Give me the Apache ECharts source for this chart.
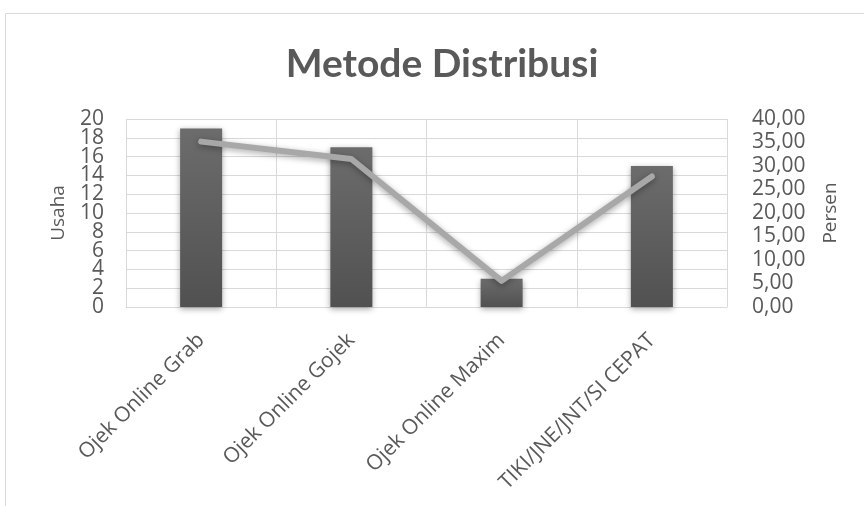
<!DOCTYPE html>
<html>
<head>
<meta charset="utf-8">
<script src="https://cdn.jsdelivr.net/npm/echarts@6/dist/echarts.min.js"></script>
<style>html,body{margin:0;padding:0;background:#fff}#c{width:864px;height:506px}</style>
</head>
<body>
<div id="c"></div>
<script>
const categories = ['Ojek Online Grab', 'Ojek Online Gojek', 'Ojek Online Maxim', 'TIKI/JNE/JNT/SI CEPAT'];
const usaha = [19, 17, 3, 15];
const persen = [35.19, 31.48, 5.56, 27.78];
const leftTicks = [0, 2, 4, 6, 8, 10, 12, 14, 16, 18, 20];
const rightTicks = [0, 5, 10, 15, 20, 25, 30, 35, 40];
const chart = echarts.init(document.getElementById('c'));
const FONT = 'Open Sans';
const TXT = '#595959';
const lbl = { fontSize: 21, color: TXT, fontFamily: FONT };
chart.setOption({
  animation: false,
  textStyle: { fontFamily: FONT },
  title: {
    text: 'Metode Distribusi', left: 437, top: 40, textAlign: 'center',
    textStyle: { fontFamily: 'Lato', fontSize: 39, fontWeight: 'bold', color: TXT }
  },
  graphic: [{
    type: 'rect', shape: { x: 5.5, y: 13.5, width: 900, height: 600 },
    style: { fill: 'none', stroke: '#d9d9d9', lineWidth: 1 }, silent: true
  }],
  grid: { left: 126, right: 137, top: 119, bottom: 199 },
  xAxis: {
    type: 'category', data: categories,
    axisLine: { lineStyle: { color: '#d9d9d9', width: 1 } },
    axisTick: { show: false },
    splitLine: { show: true, lineStyle: { color: '#d9d9d9', width: 1 } },
    axisLabel: { rotate: 45, interval: 0, fontSize: 21, color: TXT, margin: 30, fontFamily: FONT }
  },
  yAxis: [{
    type: 'value', min: 0, max: 20, interval: 2, position: 'left',
    name: 'Usaha', nameLocation: 'middle', nameRotate: 90, nameGap: 58,
    nameTextStyle: { fontSize: 19, color: TXT, fontFamily: FONT },
    axisLine: { show: false }, axisTick: { show: false },
    splitLine: { lineStyle: { color: '#d9d9d9', width: 1 } },
    axisLabel: Object.assign({ margin: 22, hideOverlap: false,
      customValues: leftTicks.filter((_, i) => i % 2 === 0) }, lbl)
  }, {
    type: 'value', min: 0, max: 40, interval: 5, position: 'right',
    name: 'Persen', nameLocation: 'middle', nameRotate: 90, nameGap: 94,
    nameTextStyle: { fontSize: 19, color: TXT, fontFamily: FONT },
    axisLine: { show: false }, axisTick: { show: false },
    splitLine: { show: false },
    axisLabel: Object.assign({ margin: 25, hideOverlap: false, customValues: rightTicks,
      formatter: v => v.toFixed(2).replace('.', ',') }, lbl)
  }, {
    type: 'value', min: 0, max: 20, interval: 2, position: 'left', offset: 0,
    axisLine: { show: false }, axisTick: { show: false },
    splitLine: { show: false },
    axisLabel: Object.assign({ margin: 22, hideOverlap: false,
      customValues: leftTicks.filter((_, i) => i % 2 === 1) }, lbl)
  }],
  series: [{
    type: 'bar', data: usaha, yAxisIndex: 0, barWidth: 42,
    itemStyle: {
      color: new echarts.graphic.LinearGradient(0, 0, 0, 1, [
        { offset: 0, color: '#6c6c6c' }, { offset: 1, color: '#515151' }
      ]),
      shadowBlur: 6, shadowColor: 'rgba(0,0,0,0.35)', shadowOffsetY: 2
    }
  }, {
    type: 'line', data: persen, yAxisIndex: 1, showSymbol: false, symbol: 'none',
    lineStyle: { color: '#a8a8a8', width: 6, cap: 'round', join: 'round',
      shadowBlur: 6, shadowColor: 'rgba(0,0,0,0.35)', shadowOffsetY: 2 }
  }]
});
</script>
</body>
</html>
